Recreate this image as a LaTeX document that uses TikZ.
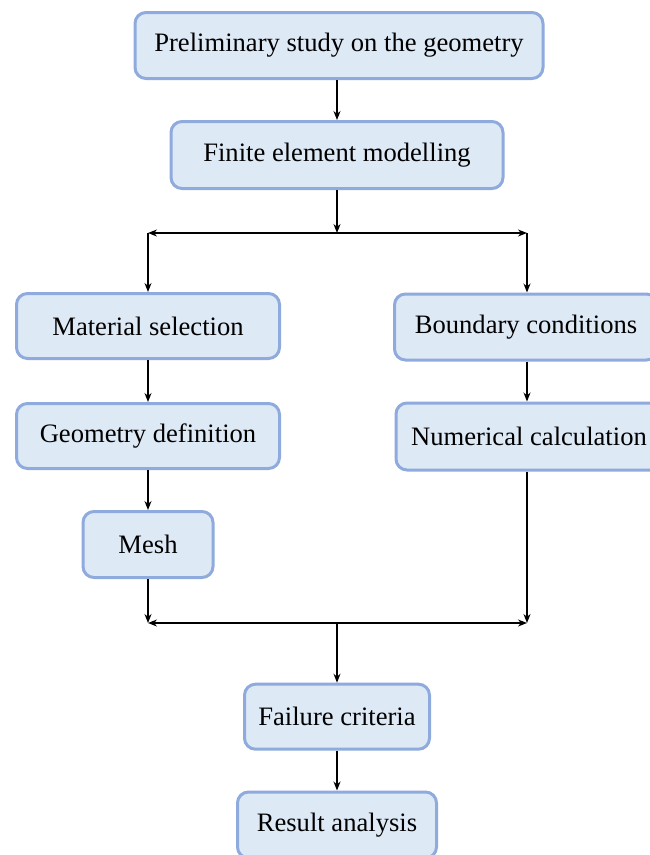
\documentclass[tikz,border=0pt]{standalone}
\usepackage{fontspec}
\setmainfont{Liberation Serif}
\usetikzlibrary{arrows.meta}
\definecolor{boxfill}{HTML}{DEE9F6}
\definecolor{boxline}{HTML}{8FAADC}
\begin{document}
\begin{tikzpicture}[x=1pt,y=-1pt,
  stepbox/.style={rectangle, rounded corners=11pt, draw=boxline, fill=boxfill,
    line width=3pt, inner sep=0pt, align=center,
    font=\fontsize{26.6}{30}\selectfont},
  flow/.style={line width=1.3pt, -{Stealth[length=9pt,width=7pt]}},
  bothflow/.style={line width=1.3pt, {Stealth[length=9pt,width=7pt]}-{Stealth[length=9pt,width=7pt]}}]
  \useasboundingbox (0,0) rectangle (649,855);

  % process steps
  \node[stepbox, minimum width=408pt, minimum height=66pt] (pre)  at (339,45.5) {Preliminary study on the geometry};
  \node[stepbox, minimum width=332pt, minimum height=67pt] (fem)  at (337,155)  {Finite element modelling};
  \node[stepbox, minimum width=263pt, minimum height=65pt] (mat)  at (148,326)  {Material selection};
  \node[stepbox, minimum width=263pt, minimum height=66pt] (bc)   at (526,327)  {Boundary conditions};
  \node[stepbox, minimum width=263pt, minimum height=65pt] (geo)  at (148,436)  {Geometry definition};
  \node[stepbox, minimum width=266pt, minimum height=67pt] (num)  at (529,436.5){Numerical calculation};
  \node[stepbox, minimum width=130pt, minimum height=66pt] (mesh) at (148,544.5) {Mesh};
  \node[stepbox, minimum width=185pt, minimum height=65pt] (fail) at (337,716.7) {Failure criteria};
  \node[stepbox, minimum width=199pt, minimum height=66pt] (res)  at (337,825)  {Result analysis};

  % branching and merging points
  \coordinate (split)  at (337,233);
  \coordinate (splitl) at (148,233);
  \coordinate (splitr) at (527,233);
  \coordinate (merge)  at (337,623);
  \coordinate (mergel) at (148,623);
  \coordinate (merger) at (527,623);

  % connectors
  \draw[flow] (fem |- pre.south) -- (fem);
  \draw[flow] (fem) -- (split);
  \draw[bothflow] (splitl) -- (splitr);
  \draw[flow] (splitl) -- (splitl |- mat.north);
  \draw[flow] (splitr) -- (splitr |- bc.north);
  \draw[flow] (mat) -- (geo);
  \draw[flow] (geo) -- (mesh);
  \draw[flow] (bc.south -| splitr) -- (num.north -| splitr);
  \draw[flow] (mesh) -- (mergel);
  \draw[flow] (num.south -| merger) -- (merger);
  \draw[bothflow] (mergel) -- (merger);
  \draw[flow] (merge) -- (fail);
  \draw[flow] (fail) -- (res);
\end{tikzpicture}
\end{document}
